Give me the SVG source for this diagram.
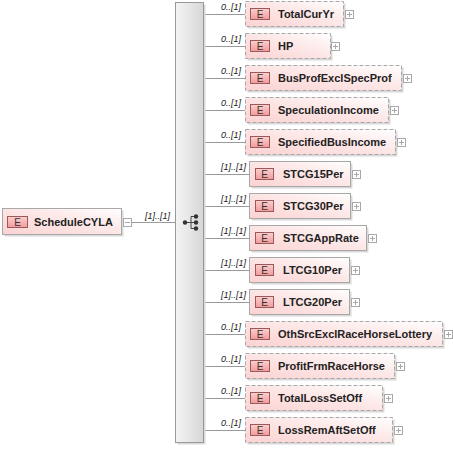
<svg xmlns="http://www.w3.org/2000/svg" width="453" height="449" viewBox="0 0 453 449">
<defs>
<linearGradient id="boxFill" x1="0" y1="1" x2="1" y2="0">
<stop offset="0" stop-color="#fcd2d2"/>
<stop offset="0.6" stop-color="#fde9e9"/>
<stop offset="1" stop-color="#ffffff"/>
</linearGradient>
<linearGradient id="badgeFill" x1="0" y1="0" x2="0" y2="1">
<stop offset="0" stop-color="#fbd0d0"/>
<stop offset="1" stop-color="#f29a9a"/>
</linearGradient>
<linearGradient id="seqFill" x1="0" y1="0" x2="1" y2="0">
<stop offset="0" stop-color="#f4f4f4"/>
<stop offset="0.5" stop-color="#e6e6e6"/>
<stop offset="1" stop-color="#d6d6d6"/>
</linearGradient>
</defs>
<style>
.shadow{fill:#d9d9d9;}
.opt{fill:url(#boxFill);stroke:#a8a8a8;stroke-width:1;stroke-dasharray:4,2;}
.req{fill:url(#boxFill);stroke:#a8a8a8;stroke-width:1;}
.badge{fill:url(#badgeFill);stroke:#9b5a5a;stroke-width:1;}
.bt{font-family:"Liberation Sans",Arial,sans-serif;font-size:10px;fill:#333;}
.name{font-family:"Liberation Sans",Arial,sans-serif;font-size:11px;font-weight:bold;fill:#222;}
.card{font-family:"Liberation Sans",Arial,sans-serif;font-size:9px;font-style:italic;fill:#222;}
.conn{stroke:#9a9a9a;stroke-width:1;fill:none;}
.pm{fill:#fff;stroke:#a8a8a8;stroke-width:1;}
.pml{stroke:#a8a8a8;stroke-width:1;}
</style>

<g id="connectors">
<line class="conn" x1="131" y1="222.5" x2="175" y2="222.5"/>
<line class="conn" x1="204" y1="14.5" x2="245" y2="14.5"/>
<line class="conn" x1="204" y1="46.5" x2="245" y2="46.5"/>
<line class="conn" x1="204" y1="78.5" x2="245" y2="78.5"/>
<line class="conn" x1="204" y1="110.5" x2="245" y2="110.5"/>
<line class="conn" x1="204" y1="142.5" x2="245" y2="142.5"/>
<line class="conn" x1="204" y1="174.5" x2="249" y2="174.5"/>
<line class="conn" x1="204" y1="206.5" x2="249" y2="206.5"/>
<line class="conn" x1="204" y1="238.5" x2="249" y2="238.5"/>
<line class="conn" x1="204" y1="270.5" x2="249" y2="270.5"/>
<line class="conn" x1="204" y1="302.5" x2="249" y2="302.5"/>
<line class="conn" x1="204" y1="334.5" x2="245" y2="334.5"/>
<line class="conn" x1="204" y1="366.5" x2="245" y2="366.5"/>
<line class="conn" x1="204" y1="398.5" x2="245" y2="398.5"/>
<line class="conn" x1="204" y1="430.5" x2="245" y2="430.5"/>
<text class="card" x="145" y="219">[1]..[1]</text>
<text class="card" x="221" y="10">0..[1]</text>
<text class="card" x="221" y="42">0..[1]</text>
<text class="card" x="221" y="74">0..[1]</text>
<text class="card" x="221" y="106">0..[1]</text>
<text class="card" x="221" y="138">0..[1]</text>
<text class="card" x="221" y="170">[1]..[1]</text>
<text class="card" x="221" y="202">[1]..[1]</text>
<text class="card" x="221" y="234">[1]..[1]</text>
<text class="card" x="221" y="266">[1]..[1]</text>
<text class="card" x="221" y="298">[1]..[1]</text>
<text class="card" x="221" y="330">0..[1]</text>
<text class="card" x="221" y="362">0..[1]</text>
<text class="card" x="221" y="394">0..[1]</text>
<text class="card" x="221" y="426">0..[1]</text>
</g>

<g id="ScheduleCYLA">
<rect class="shadow" x="4.5" y="210.5" width="119" height="26"/>
<rect class="req" x="2.5" y="208.5" width="119" height="26"/>
<rect class="badge" x="7.5" y="216.5" width="20" height="11"/>
<text class="bt" x="17.5" y="226" text-anchor="middle">E</text>
<text class="name" x="34" y="226">ScheduleCYLA</text>
<rect class="pm" x="123.5" y="218.5" width="8" height="8"/>
<line class="pml" x1="125" y1="222.5" x2="130" y2="222.5"/>
</g>

<g id="sequence">
<rect class="shadow" x="177.5" y="4.5" width="28" height="440"/>
<rect x="175.5" y="2.5" width="28" height="440" fill="url(#seqFill)" stroke="#9a9a9a"/>
<line x1="185" y1="222.5" x2="191" y2="222.5" stroke="#444"/>
<line x1="191" y1="216.5" x2="191" y2="228.5" stroke="#444"/>
<line x1="191" y1="216.5" x2="195" y2="216.5" stroke="#444"/>
<line x1="191" y1="228.5" x2="195" y2="228.5" stroke="#444"/>
<line x1="191" y1="222.5" x2="195" y2="222.5" stroke="#444"/>
<circle cx="185" cy="222.5" r="2.2" fill="#333"/>
<circle cx="196" cy="216.5" r="2.2" fill="#333"/>
<circle cx="196" cy="222.5" r="2.2" fill="#333"/>
<circle cx="196" cy="228.5" r="2.2" fill="#333"/>
</g>

<g id="TotalCurYr">
<rect class="shadow" x="247.5" y="3.5" width="98" height="25"/>
<rect class="opt" x="245.5" y="1.5" width="98" height="25"/>
<rect class="badge" x="250.5" y="8.5" width="19" height="11"/>
<text class="bt" x="260" y="18" text-anchor="middle">E</text>
<text class="name" x="278" y="18">TotalCurYr</text>
<rect class="pm" x="345.5" y="10.5" width="8" height="8"/>
<line class="pml" x1="347" y1="14.5" x2="352" y2="14.5"/><line class="pml" x1="349.5" y1="12" x2="349.5" y2="17"/>
</g>

<g id="HP">
<rect class="shadow" x="247.5" y="35.5" width="85" height="25"/>
<rect class="opt" x="245.5" y="33.5" width="85" height="25"/>
<rect class="badge" x="250.5" y="40.5" width="19" height="11"/>
<text class="bt" x="260" y="50" text-anchor="middle">E</text>
<text class="name" x="278" y="50">HP</text>
<rect class="pm" x="331.5" y="42.5" width="8" height="8"/>
<line class="pml" x1="333" y1="46.5" x2="338" y2="46.5"/><line class="pml" x1="335.5" y1="44" x2="335.5" y2="49"/>
</g>

<g id="BusProfExclSpecProf">
<rect class="shadow" x="247.5" y="67.5" width="156" height="25"/>
<rect class="opt" x="245.5" y="65.5" width="156" height="25"/>
<rect class="badge" x="250.5" y="72.5" width="19" height="11"/>
<text class="bt" x="260" y="82" text-anchor="middle">E</text>
<text class="name" x="278" y="82">BusProfExclSpecProf</text>
<rect class="pm" x="403.5" y="74.5" width="8" height="8"/>
<line class="pml" x1="405" y1="78.5" x2="410" y2="78.5"/><line class="pml" x1="407.5" y1="76" x2="407.5" y2="81"/>
</g>

<g id="SpeculationIncome">
<rect class="shadow" x="247.5" y="99.5" width="143" height="25"/>
<rect class="opt" x="245.5" y="97.5" width="143" height="25"/>
<rect class="badge" x="250.5" y="104.5" width="19" height="11"/>
<text class="bt" x="260" y="114" text-anchor="middle">E</text>
<text class="name" x="278" y="114">SpeculationIncome</text>
<rect class="pm" x="390.5" y="106.5" width="8" height="8"/>
<line class="pml" x1="392" y1="110.5" x2="397" y2="110.5"/><line class="pml" x1="394.5" y1="108" x2="394.5" y2="113"/>
</g>

<g id="SpecifiedBusIncome">
<rect class="shadow" x="247.5" y="131.5" width="150" height="25"/>
<rect class="opt" x="245.5" y="129.5" width="150" height="25"/>
<rect class="badge" x="250.5" y="136.5" width="19" height="11"/>
<text class="bt" x="260" y="146" text-anchor="middle">E</text>
<text class="name" x="278" y="146">SpecifiedBusIncome</text>
<rect class="pm" x="397.5" y="138.5" width="8" height="8"/>
<line class="pml" x1="399" y1="142.5" x2="404" y2="142.5"/><line class="pml" x1="401.5" y1="140" x2="401.5" y2="145"/>
</g>

<g id="STCG15Per">
<rect class="shadow" x="251.5" y="163.5" width="101" height="25"/>
<rect class="req" x="249.5" y="161.5" width="101" height="25"/>
<rect class="badge" x="255.5" y="168.5" width="18" height="11"/>
<text class="bt" x="264.5" y="178" text-anchor="middle">E</text>
<text class="name" x="283" y="178">STCG15Per</text>
<rect class="pm" x="352.5" y="170.5" width="8" height="8"/>
<line class="pml" x1="354" y1="174.5" x2="359" y2="174.5"/><line class="pml" x1="356.5" y1="172" x2="356.5" y2="177"/>
</g>

<g id="STCG30Per">
<rect class="shadow" x="251.5" y="195.5" width="101" height="25"/>
<rect class="req" x="249.5" y="193.5" width="101" height="25"/>
<rect class="badge" x="255.5" y="200.5" width="18" height="11"/>
<text class="bt" x="264.5" y="210" text-anchor="middle">E</text>
<text class="name" x="283" y="210">STCG30Per</text>
<rect class="pm" x="352.5" y="202.5" width="8" height="8"/>
<line class="pml" x1="354" y1="206.5" x2="359" y2="206.5"/><line class="pml" x1="356.5" y1="204" x2="356.5" y2="209"/>
</g>

<g id="STCGAppRate">
<rect class="shadow" x="251.5" y="227.5" width="117" height="25"/>
<rect class="req" x="249.5" y="225.5" width="117" height="25"/>
<rect class="badge" x="255.5" y="232.5" width="18" height="11"/>
<text class="bt" x="264.5" y="242" text-anchor="middle">E</text>
<text class="name" x="283" y="242">STCGAppRate</text>
<rect class="pm" x="368.5" y="234.5" width="8" height="8"/>
<line class="pml" x1="370" y1="238.5" x2="375" y2="238.5"/><line class="pml" x1="372.5" y1="236" x2="372.5" y2="241"/>
</g>

<g id="LTCG10Per">
<rect class="shadow" x="251.5" y="259.5" width="100" height="25"/>
<rect class="req" x="249.5" y="257.5" width="100" height="25"/>
<rect class="badge" x="255.5" y="264.5" width="18" height="11"/>
<text class="bt" x="264.5" y="274" text-anchor="middle">E</text>
<text class="name" x="283" y="274">LTCG10Per</text>
<rect class="pm" x="351.5" y="266.5" width="8" height="8"/>
<line class="pml" x1="353" y1="270.5" x2="358" y2="270.5"/><line class="pml" x1="355.5" y1="268" x2="355.5" y2="273"/>
</g>

<g id="LTCG20Per">
<rect class="shadow" x="251.5" y="291.5" width="100" height="25"/>
<rect class="req" x="249.5" y="289.5" width="100" height="25"/>
<rect class="badge" x="255.5" y="296.5" width="18" height="11"/>
<text class="bt" x="264.5" y="306" text-anchor="middle">E</text>
<text class="name" x="283" y="306">LTCG20Per</text>
<rect class="pm" x="351.5" y="298.5" width="8" height="8"/>
<line class="pml" x1="353" y1="302.5" x2="358" y2="302.5"/><line class="pml" x1="355.5" y1="300" x2="355.5" y2="305"/>
</g>

<g id="OthSrcExclRaceHorseLottery">
<rect class="shadow" x="247.5" y="323.5" width="197" height="25"/>
<rect class="opt" x="245.5" y="321.5" width="197" height="25"/>
<rect class="badge" x="250.5" y="328.5" width="19" height="11"/>
<text class="bt" x="260" y="338" text-anchor="middle">E</text>
<text class="name" x="278" y="338">OthSrcExclRaceHorseLottery</text>
<rect class="pm" x="444.5" y="330.5" width="8" height="8"/>
<line class="pml" x1="446" y1="334.5" x2="451" y2="334.5"/><line class="pml" x1="448.5" y1="332" x2="448.5" y2="337"/>
</g>

<g id="ProfitFrmRaceHorse">
<rect class="shadow" x="247.5" y="355.5" width="149" height="25"/>
<rect class="opt" x="245.5" y="353.5" width="149" height="25"/>
<rect class="badge" x="250.5" y="360.5" width="19" height="11"/>
<text class="bt" x="260" y="370" text-anchor="middle">E</text>
<text class="name" x="278" y="370">ProfitFrmRaceHorse</text>
<rect class="pm" x="396.5" y="362.5" width="8" height="8"/>
<line class="pml" x1="398" y1="366.5" x2="403" y2="366.5"/><line class="pml" x1="400.5" y1="364" x2="400.5" y2="369"/>
</g>

<g id="TotalLossSetOff">
<rect class="shadow" x="247.5" y="387.5" width="137" height="25"/>
<rect class="opt" x="245.5" y="385.5" width="137" height="25"/>
<rect class="badge" x="250.5" y="392.5" width="19" height="11"/>
<text class="bt" x="260" y="402" text-anchor="middle">E</text>
<text class="name" x="278" y="402">TotalLossSetOff</text>
<rect class="pm" x="384.5" y="394.5" width="8" height="8"/>
<line class="pml" x1="386" y1="398.5" x2="391" y2="398.5"/><line class="pml" x1="388.5" y1="396" x2="388.5" y2="401"/>
</g>

<g id="LossRemAftSetOff">
<rect class="shadow" x="247.5" y="419.5" width="147" height="25"/>
<rect class="opt" x="245.5" y="417.5" width="147" height="25"/>
<rect class="badge" x="250.5" y="424.5" width="19" height="11"/>
<text class="bt" x="260" y="434" text-anchor="middle">E</text>
<text class="name" x="278" y="434">LossRemAftSetOff</text>
<rect class="pm" x="394.5" y="426.5" width="8" height="8"/>
<line class="pml" x1="396" y1="430.5" x2="401" y2="430.5"/><line class="pml" x1="398.5" y1="428" x2="398.5" y2="433"/>
</g>
</svg>
